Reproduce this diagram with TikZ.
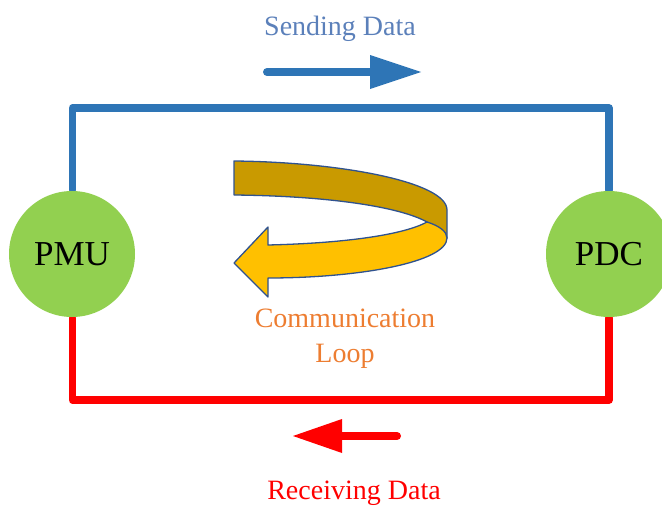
\documentclass[tikz,border=0pt]{standalone}
\usepackage{fontspec}
\setmainfont{Liberation Serif}
\definecolor{sendblue}{HTML}{2E75B6}
\definecolor{sendtext}{HTML}{5B80BA}
\definecolor{recvred}{HTML}{FF0000}
\definecolor{nodegreen}{HTML}{92D050}
\definecolor{loopdark}{HTML}{C99A00}
\definecolor{loopbright}{HTML}{FFC000}
\definecolor{loopedge}{HTML}{2F528F}
\definecolor{looptext}{HTML}{ED7D31}
\tikzset{
  unitnode/.style={circle, fill=nodegreen, minimum size=126pt, inner sep=0pt, font=\fontsize{35}{40}\selectfont},
  wire/.style={line width=7.5pt, line join=round, line cap=round},
  dirarrow/.style={line width=8pt, line cap=round},
  label/.style={font=\fontsize{28}{35}\selectfont, inner sep=0pt, anchor=base},
  loopband/.style={draw=loopedge, line width=1.3pt, line join=round}
}
\begin{document}
\begin{tikzpicture}[x=1pt, y=-1pt]
\useasboundingbox (0,0) rectangle (662,506);
\clip (0,0) rectangle (662,506);
% coordinates of wire corners
\coordinate (tl) at (72.5,108);
\coordinate (tr) at (609,108);
\coordinate (bl) at (72.5,400);
\coordinate (br) at (609,400);
% wires (drawn below nodes)
\draw[wire, sendblue] (72.5,190) -- (tl) -- (tr) -- (609,190);
\draw[wire, recvred] (72.5,318) -- (bl) -- (br) -- (609,318);
% nodes
\node[unitnode] (pmu) at (72,254) {PMU};
\node[unitnode] (pdc) at (609,254) {PDC};
% direction arrows
\coordinate (sa) at (267,72);
\coordinate (sb) at (371,72);
\draw[dirarrow, sendblue] (sa) -- (sb);
\fill[sendblue] (370,55) -- (421,72) -- (370,89) -- cycle;
\coordinate (ra) at (397,436);
\coordinate (rb) at (340,436);
\draw[dirarrow, recvred] (ra) -- (rb);
\fill[recvred] (342,419) -- (293,436) -- (342,453) -- cycle;
% labels
\node[label, text=sendtext] (send) at (340,35) {Sending Data};
\node[label, text=recvred] (recv) at (354,499.5) {Receiving Data};
\node[label, text=looptext] (comm) at (345,327) {Communication};
\node[label, text=looptext] (loop) at (345,362) {Loop};
% curved loop arrow
\fill[loopdark, loopband] (234,161) .. controls (340,162) and (447,182) .. (447,210)
  -- (447,238) -- (427,222) .. controls (400,207) and (330,196) .. (234,195) -- cycle;
\fill[loopbright, loopband] (427,222) .. controls (440,226) and (447,232) .. (447,238)
  .. controls (447,262) and (360,278) .. (268,278) -- (268,297) -- (234,263) -- (268,227)
  -- (268,245) .. controls (350,243) and (405,234) .. (427,222) -- cycle;
\end{tikzpicture}
\end{document}
